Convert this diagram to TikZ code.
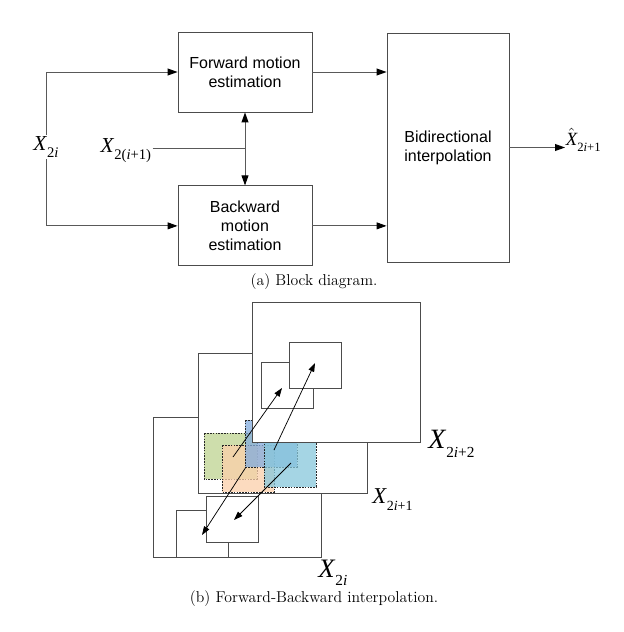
\documentclass[tikz,border=0pt]{standalone}
\usepackage{fontspec}
\newfontfamily\arialfont{Liberation Sans}
\newfontfamily\timesfont{Liberation Serif}
\usetikzlibrary{positioning, arrows.meta}

\definecolor{greenpatch}{RGB}{190,212,145}
\definecolor{peachpatch}{RGB}{252,208,170}
\definecolor{cyanpatch}{RGB}{135,200,220}
\definecolor{bluepatch}{RGB}{130,172,222}

\newcommand{\xfont}[1]{\timesfont\fontsize{#1}{#1}\selectfont}
\newcommand{\xsub}[2]{\textit{X}\raisebox{-0.33em}{\fontsize{#1}{#1}\selectfont #2}}

\tikzset{
  blockbox/.style={
    draw=black!70, line width=0.65pt,
    font=\arialfont\fontsize{12}{14.25}\selectfont, align=center
  },
  flow/.style={-{Triangle[length=7.5pt,width=5.2pt,color=black]}, draw=black!65, line width=0.7pt},
  link/.style={draw=black!65, line width=0.7pt},
  frame/.style={draw=black!70, line width=0.7pt, fill=white},
  patch/.style={draw=black!85, line width=0.6pt, dash pattern=on 1.2pt off 0.9pt,
    fill opacity=0.75},
  mv/.style={-{Triangle[length=6.5pt,width=4.5pt]}, line width=0.55pt},
  caption/.style={font=\fontsize{11.8}{13}\selectfont},
}

\begin{document}
\begin{tikzpicture}[x=0.75pt, y=-0.75pt]
  \useasboundingbox (0,0) rectangle (624,632);

  % (a) block diagram
  \node[blockbox, minimum width=100.5pt, minimum height=60pt] (fwd) at (245,72)
    {Forward motion\\estimation};
  \node[blockbox, minimum width=100.5pt, minimum height=60pt, below=54.75pt of fwd] (bwd)
    {Backward\\motion\\estimation};
  \node[blockbox, minimum width=91.5pt, minimum height=171.75pt] (bidir) at (448,147.5)
    {Bidirectional\\interpolation};

  \node[fill=white, inner sep=1pt, font=\xfont{16}] (xcur) at (46,147)
    {\xsub{11}{2\textit{i}}};
  \node[anchor=base west, inner sep=1pt, font=\xfont{16}] (xnext) at (99,152)
    {\xsub{11}{2(\textit{i}+1)}};
  \coordinate (split) at (245,148);
  \node[anchor=base west, inner sep=0.5pt, font=\xfont{14}] (xout) at (565,145)
    {$\hat{\mbox{\itshape X}}$\raisebox{-0.35em}{\fontsize{9.5}{9.5}\selectfont 2\textit{i}+1}};

  \draw[flow] (xcur) |- (fwd);
  \draw[flow] (xcur) |- (bwd);
  \draw[link] (xnext.east |- split) -- (split);
  \draw[flow, {Triangle[length=7.5pt,width=5.2pt,color=black]}-{Triangle[length=7.5pt,width=5.2pt,color=black]}] (fwd) -- (bwd);
  \draw[flow] (fwd.east) -- (fwd.east -| bidir.west);
  \draw[flow] (bwd.east) -- (bwd.east -| bidir.west);
  \draw[flow] (bidir.east) -- (bidir.east -| xout.west);

  \node[caption] (capa) at (314,282) {(a) Block diagram.};

  % (b) forward-backward interpolation
  \draw[frame] (153,417) rectangle (321,557);
  \draw[frame] (176,510) rectangle (228,557);
  \draw[frame] (206,496) rectangle (258,542);
  \draw[frame] (198,353) rectangle (367,493);

  \draw[patch, fill=greenpatch] (204,433) rectangle (257,479);
  \draw[patch, fill=peachpatch] (222,445) rectangle (274,492);
  \draw[patch, fill=bluepatch] (245,420) rectangle (297,467);
  \draw[patch, fill=cyanpatch] (264,441) rectangle (316,487);

  \draw[frame] (252,302) rectangle (420,442);
  \draw[frame] (261,362) rectangle (313,408);
  \draw[frame] (289,342) rectangle (341,388);

  \coordinate (fw1s) at (233,457);
  \coordinate (fw1e) at (282,388);
  \coordinate (fw2s) at (274,450);
  \coordinate (fw2e) at (315,363);
  \coordinate (bw1s) at (246,467);
  \coordinate (bw1e) at (202,535);
  \coordinate (bw2s) at (291,463);
  \coordinate (bw2e) at (234,520);
  \draw[mv] (fw1s) -- (fw1e);
  \draw[mv] (fw2s) -- (fw2e);
  \draw[mv] (bw1s) -- (bw1e);
  \draw[mv] (bw2s) -- (bw2e);

  \node[anchor=base west, inner sep=0pt, font=\xfont{21}] (lab2) at (428,448)
    {\xsub{11.5}{2\textit{i}+2}};
  \node[anchor=base west, inner sep=0pt, font=\xfont{17}] (lab1) at (372,503)
    {\xsub{10.5}{2\textit{i}+1}};
  \node[anchor=base west, inner sep=0pt, font=\xfont{20}] (lab0) at (318,577)
    {\xsub{11.5}{2\textit{i}}};

  \node[caption] (capb) at (314,599) {(b) Forward-Backward interpolation.};
\end{tikzpicture}
\end{document}
